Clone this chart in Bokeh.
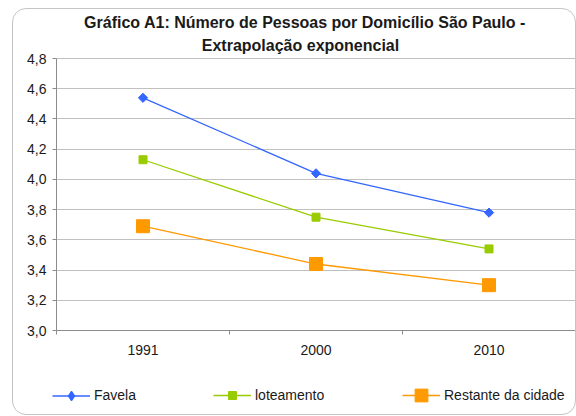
from bokeh.plotting import figure
from bokeh.layouts import column
from bokeh.models import Range1d, FixedTicker, Legend, LegendItem, Label
from bokeh.embed import file_html
from bokeh.resources import INLINE

# ---- data ----
years = ["1991", "2000", "2010"]
favela = [4.54, 4.04, 3.78]
loteamento = [4.13, 3.75, 3.54]
restante = [3.69, 3.44, 3.30]
y_ticks = [3.0, 3.2, 3.4, 3.6, 3.8, 4.0, 4.2, 4.4, 4.6, 4.8]
y_labels = ["3,0", "3,2", "3,4", "3,6", "3,8", "4,0", "4,2", "4,4", "4,6", "4,8"]
title_lines = ["Gráfico A1: Número de Pessoas por Domicílio São Paulo -",
               "Extrapolação exponencial"]

x = list(range(len(years)))
FONT = "Liberation Sans"
TXT = "#1a1a1a"

# chart area: frame 321 px tall, the top 49 px hold the title
W, H, FRAME_H, PLOT_H = 562, 360, 321, 272
y_lo, y_hi = y_ticks[0], y_ticks[-1]
y_top = y_lo + (y_hi - y_lo) * FRAME_H / PLOT_H

p = figure(width=W, height=H, output_backend="svg", toolbar_location=None,
           x_range=Range1d(-0.5, len(years) - 0.5), y_range=Range1d(y_lo, y_top),
           min_border_left=43, min_border_right=0, min_border_top=0,
           min_border_bottom=H - FRAME_H)
p.outline_line_color = None
p.background_fill_color = None
p.border_fill_color = None

p.xgrid.grid_line_color = None
p.ygrid.grid_line_color = "#c0c0c0"
p.ygrid.ticker = FixedTicker(ticks=y_ticks)

p.yaxis.ticker = FixedTicker(ticks=y_ticks)
p.yaxis.bounds = (y_lo, y_hi)
p.yaxis.major_label_overrides = {t: l for t, l in zip(y_ticks, y_labels)}
p.yaxis.axis_line_color = "#8c8c8c"
p.yaxis.major_tick_line_color = "#8c8c8c"
p.yaxis.major_tick_in = 0
p.yaxis.major_tick_out = 4
p.yaxis.minor_tick_line_color = None
p.yaxis.major_label_standoff = 6
p.yaxis.major_label_text_font = FONT
p.yaxis.major_label_text_font_size = "14px"
p.yaxis.major_label_text_color = TXT

p.xaxis.ticker = FixedTicker(ticks=x, minor_ticks=[i - 0.5 for i in range(len(years) + 1)])
p.xaxis.major_label_overrides = {i: y for i, y in zip(x, years)}
p.xaxis.axis_line_color = "#8c8c8c"
p.xaxis.major_tick_line_color = None
p.xaxis.major_tick_out = 4
p.xaxis.major_tick_in = 0
p.xaxis.minor_tick_line_color = "#8c8c8c"
p.xaxis.minor_tick_in = 0
p.xaxis.minor_tick_out = 4
p.xaxis.major_label_standoff = 10
p.xaxis.major_label_text_font = FONT
p.xaxis.major_label_text_font_size = "14px"
p.xaxis.major_label_text_color = TXT

# name, values, colour, chart marker, size, angle, legend marker, legend glyph height, legend x
series = [
    ("Favela", favela, "#3366FF", "square", 6.5, 0.785398, "diamond", 25, 39),
    ("loteamento", loteamento, "#99CC00", "square", 8, 0.0, "square", 20, 200),
    ("Restante da cidade", restante, "#FF9900", "square", 13, 0.0, "square", 32, 389),
]
for name, vals, col, mk, sz, ang, _, _, _ in series:
    p.line(x, vals, line_color=col, line_width=1.3)
    p.scatter(x, vals, marker=mk, size=sz, angle=ang, fill_color=col, line_color=col)

# title inside the (extended) frame, screen units from frame bottom-left
for t, (sx, sy) in zip(title_lines, [(248.5, 308), (244, 285)]):
    p.add_layout(Label(x=sx, y=sy, x_units="screen", y_units="screen", text=t,
                       text_align="center", text_baseline="middle", text_font=FONT,
                       text_font_style="bold", text_font_size="16px", text_color=TXT))

# legend strip: a frame-only figure holding the legend entries
LH = 45
pl = figure(width=W, height=LH, output_backend="svg", toolbar_location=None,
            x_range=Range1d(-10, -9), y_range=Range1d(0, 1),
            x_axis_type=None, y_axis_type=None,
            min_border_left=0, min_border_right=0, min_border_top=0, min_border_bottom=0)
pl.outline_line_color = None
pl.background_fill_color = None
pl.border_fill_color = None
pl.xgrid.visible = False
pl.ygrid.visible = False

aligned = "frame_align" in pl.properties()
if aligned:
    p.frame_align = False
    pl.frame_align = False

LEG_CY = 19  # legend centre, px above the strip's bottom
for name, vals, col, mk, sz, ang, lmk, gh, lx in series:
    l = pl.line(x, vals, line_color=col, line_width=1.3)
    s = pl.scatter(x, vals, marker=lmk, size=sz, fill_color=col, line_color=col)
    leg = Legend(items=[LegendItem(label=name, renderers=[l, s])], orientation="horizontal",
                 location=((lx if aligned else lx - 39), LEG_CY - gh / 2),
                 glyph_width=38, glyph_height=gh, label_height=gh, label_standoff=4,
                 padding=0, margin=0, border_line_color=None,
                 background_fill_alpha=0, label_text_font=FONT,
                 label_text_font_size="14px", label_text_color=TXT)
    pl.add_layout(leg, "center")

page = column(p, pl, spacing=0,
              styles={"margin-left": "12px", "margin-top": "8px",
                      "border": "1px solid #c4c4c4", "border-radius": "14px"})

open("out.html", "w").write(file_html(page, INLINE))
